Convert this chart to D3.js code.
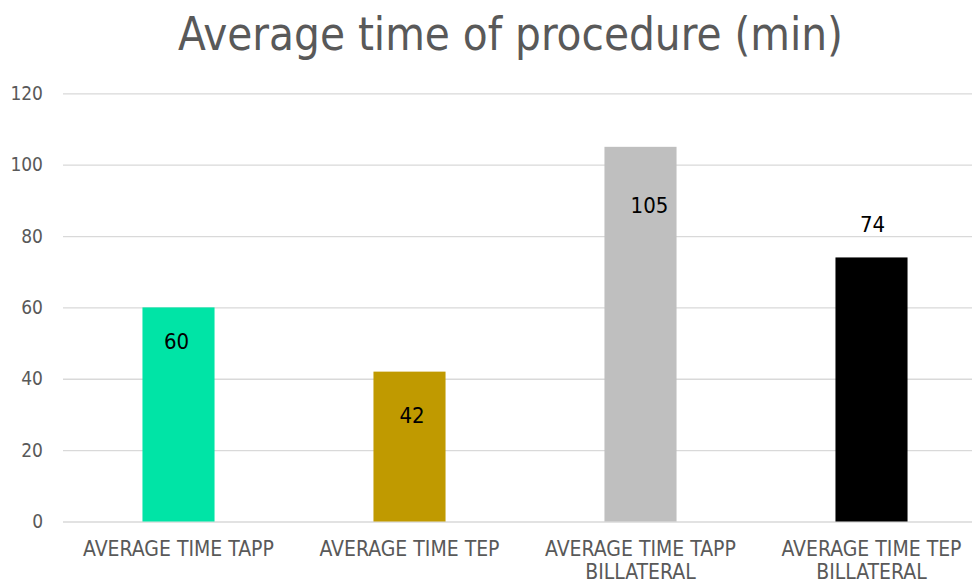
<!DOCTYPE html>
<html>
<head>
<meta charset="utf-8">
<script src="https://cdn.jsdelivr.net/npm/d3@7"></script>
<style>
  html, body { margin: 0; padding: 0; background: #fff; }
  svg { display: block; }
  text { font-family: "DejaVu Sans Condensed", "DejaVu Sans", sans-serif; }
</style>
</head>
<body>
<svg id="chart" width="972" height="584"></svg>
<script>
// Chart data
const title = "Average time of procedure (min)";
const categories = [
  ["AVERAGE TIME TAPP"],
  ["AVERAGE TIME TEP"],
  ["AVERAGE TIME TAPP", "BILLATERAL"],
  ["AVERAGE TIME TEP", "BILLATERAL"]
];
const values = [60, 42, 105, 74];
const barColors = ["#00E4A6", "#C09A00", "#BFBFBF", "#000000"];
const yTicks = [0, 20, 40, 60, 80, 100, 120];

const svg = d3.select("#chart");

const x = d3.scaleBand()
  .domain(d3.range(values.length))
  .range([63, 987])
  .paddingInner(0.688)
  .paddingOuter(0.344);

const y = d3.scaleLinear()
  .domain([0, 120])
  .range([521.5, 93.3]);

// Horizontal gridlines with tick labels
const yAxis = d3.axisLeft(y)
  .tickValues(yTicks)
  .tickSize(-(987 - 63))
  .tickPadding(20);

const gy = svg.append("g")
  .attr("transform", "translate(63,0)")
  .call(yAxis);
gy.select(".domain").remove();
gy.selectAll(".tick line")
  .attr("stroke", "#D9D9D9")
  .attr("stroke-width", 1.3);
gy.selectAll(".tick text")
  .attr("fill", "#595959")
  .attr("font-size", 19);

// Bars
svg.append("g").selectAll("rect")
  .data(values)
  .join("rect")
  .attr("x", (d, i) => x(i))
  .attr("width", x.bandwidth())
  .attr("y", d => y(d))
  .attr("height", d => y(0) - y(d))
  .attr("fill", (d, i) => barColors[i]);

// Value labels (placement nudges per bar, in pixels)
const labelNudge = [[-2, 42], [2.5, 51.5], [9, 66], [1, -25.5]];
svg.append("g").selectAll("text")
  .data(values)
  .join("text")
  .attr("x", (d, i) => x(i) + x.bandwidth() / 2 + labelNudge[i][0])
  .attr("y", (d, i) => y(d) + labelNudge[i][1])
  .attr("text-anchor", "middle")
  .attr("font-size", 22)
  .attr("fill", "#000")
  .text(d => d);

// Category labels
const xl = svg.append("g").selectAll("text")
  .data(categories)
  .join("text")
  .attr("x", (d, i) => x(i) + x.bandwidth() / 2)
  .attr("y", 556)
  .attr("text-anchor", "middle")
  .attr("font-size", 21)
  .attr("fill", "#595959");
xl.selectAll("tspan")
  .data(d => d)
  .join("tspan")
  .attr("x", function () { return this.parentNode.getAttribute("x"); })
  .attr("dy", (d, j) => j === 0 ? 0 : 22.5)
  .text(d => d);

// Title
svg.append("text")
  .attr("x", 510.5)
  .attr("y", 50)
  .attr("text-anchor", "middle")
  .attr("font-size", 46)
  .attr("textLength", 665)
  .attr("lengthAdjust", "spacingAndGlyphs")
  .attr("fill", "#595959")
  .text(title);
</script>
</body>
</html>
